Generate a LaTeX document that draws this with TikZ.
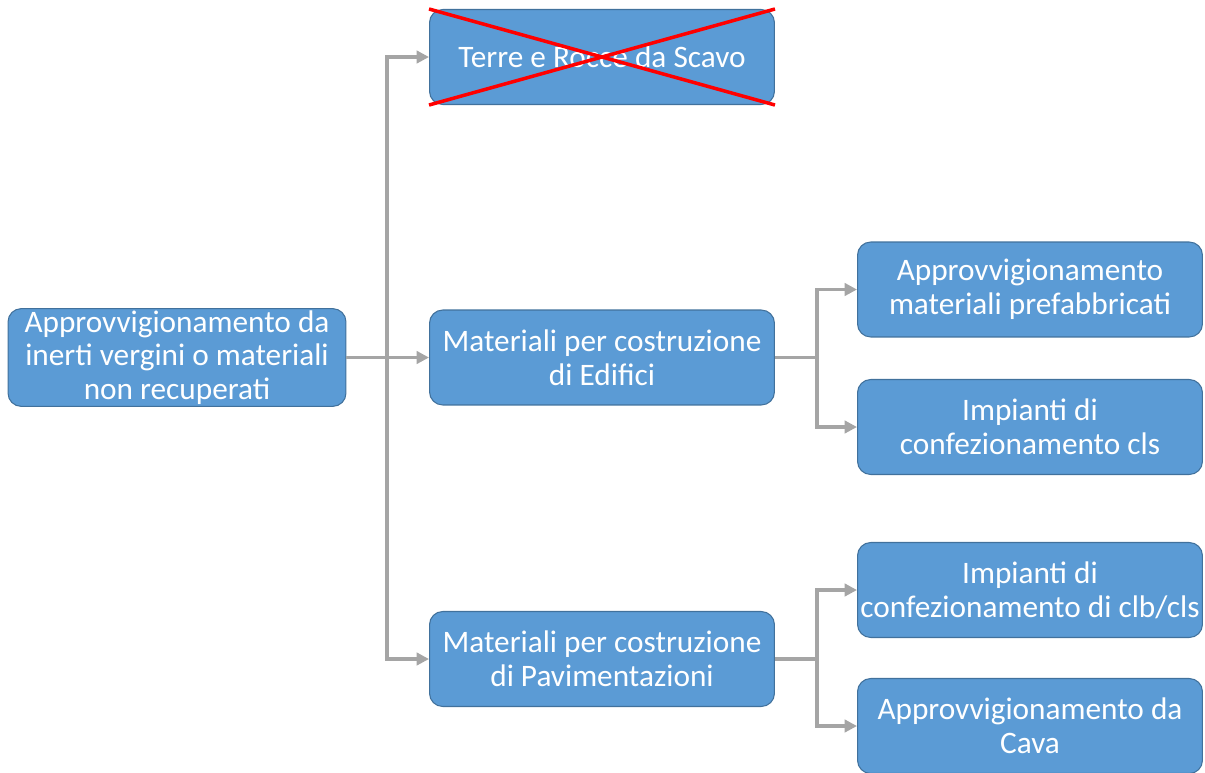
\documentclass[tikz,border=0pt]{standalone}
\usepackage{fontspec}
\setmainfont{Carlito}
\usepackage{xcolor}
\usetikzlibrary{positioning, arrows.meta}

\definecolor{boxblue}{HTML}{5B9BD5}
\definecolor{boxline}{HTML}{41719C}
\definecolor{linkgray}{HTML}{A5A5A5}

\begin{document}
\begin{tikzpicture}[x=0.02cm,y=-0.02cm,>={Triangle[length=7pt,width=7pt]},
                    link/.style={draw=linkgray,line width=2.2pt},
                    box node/.style={rectangle,rounded corners=7.5pt,fill=boxblue,draw=boxline,line width=0.6pt,
                                     text=white,align=center,minimum width=6.9cm,minimum height=1.9cm,
                                     inner sep=1pt,font=\fontsize{17.8}{19.2}\selectfont}]

        \useasboundingbox (0,0) rectangle (1205,772);

        \node[box node, minimum width=6.76cm] (root) at (177,357.5) {\raisebox{-4pt}{}Approvvigionamento da\\inerti vergini o materiali\\non recuperati};
        \node[box node] (terre) at (602,57) {Terre e Rocce da Scavo};
        \node[box node] (edif) at (602,357.5) {Materiali per costruzione\\di Edifici};
        \node[box node] (pav) at (602,659) {Materiali per costruzione\\di Pavimentazioni};
        \node[box node] (prefab) at (1030,289.5) {Approvvigionamento\\materiali prefabbricati};
        \node[box node] (cls) at (1030,427) {Impianti di\\confezionamento cls};
        \node[box node] (clb) at (1030,590) {Impianti di\\confezionamento di clb/cls};
        \node[box node] (cava) at (1030,726) {Approvvigionamento da\\Cava};

        % crossed out
        \draw[red,line width=2pt] (terre.north west) -- (terre.south east);
        \draw[red,line width=2pt] (terre.south west) -- (terre.north east);

        \coordinate (j1) at (387,357.5);
        \coordinate (j2) at (817,357.5);
        \coordinate (j3) at (817,659);

        \draw[link,->] (root) -- (edif);
        \draw[link,->] (j1) |- (terre);
        \draw[link,->] (j1) |- (pav);

        \draw[link] (edif) -- (j2);
        \draw[link,->] (j2) |- (prefab);
        \draw[link,->] (j2) |- (cls);

        \draw[link] (pav) -- (j3);
        \draw[link,->] (j3) |- (clb);
        \draw[link,->] (j3) |- (cava);
\end{tikzpicture}
\end{document}
